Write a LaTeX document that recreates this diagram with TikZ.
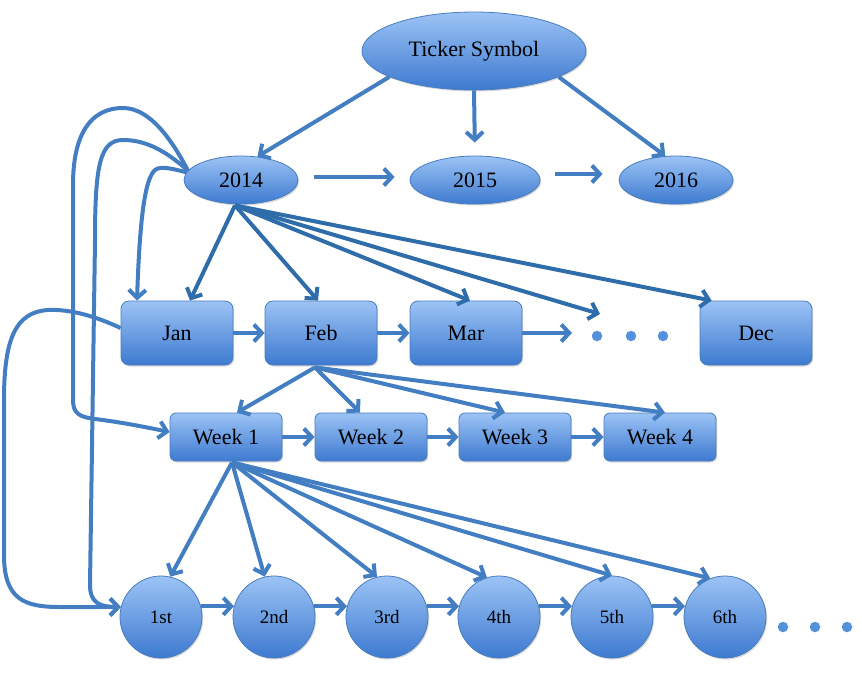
\documentclass[tikz,border=0pt]{standalone}
\usepackage{fontspec}
\setmainfont{Liberation Serif}
\usetikzlibrary{shapes.geometric,arrows.meta,shadows}
\definecolor{topblue}{HTML}{9CC3F5}
\definecolor{botblue}{HTML}{3D7AD0}
\definecolor{edgeblue}{HTML}{4A7DBE}
\definecolor{arrowblue}{HTML}{437DC2}
\definecolor{fanblue}{HTML}{2F6DAA}
\definecolor{dotblue}{HTML}{5590DA}
\tikzset{
  base/.style={draw=edgeblue, line width=0.8pt, top color=topblue, bottom color=botblue,
    drop shadow={shadow xshift=1.2pt, shadow yshift=-1.5pt, opacity=0.3},
    inner sep=0pt, text=black, font=\fontsize{22}{26}\selectfont},
  oval/.style={base, ellipse},
  box/.style={base, rectangle, rounded corners=8pt, minimum width=112pt, minimum height=64pt},
  wbox/.style={box, minimum height=48pt, rounded corners=6pt},
  day/.style={base, circle, minimum size=82pt, font=\fontsize{19}{23}\selectfont},
  dotmark/.style={circle, fill=dotblue, minimum size=10.5pt, inner sep=0pt},
  conn/.style={draw=arrowblue, line width=4pt, -{Straight Barb[length=8pt,width=17pt]}},
  fan/.style={conn, draw=fanblue},
}
\begin{document}
\begin{tikzpicture}[x=1pt,y=-1pt]
\useasboundingbox (0,0) rectangle (862,672);
% years
\node[oval, minimum width=224pt, minimum height=78pt] (ticker) at (474,51) {Ticker Symbol};
\node[oval, minimum width=114pt, minimum height=48pt] (y2014) at (241,180) {2014};
\node[oval, minimum width=130pt, minimum height=48pt] (y2015) at (475,180) {2015};
\node[oval, minimum width=114pt, minimum height=48pt] (y2016) at (676,180) {2016};
% months
\node[box] (jan) at (177,333) {Jan};
\node[box] (feb) at (321,333) {Feb};
\node[box] (mar) at (466,333) {Mar};
\node[box] (dec) at (756,333) {Dec};
\node[dotmark] (dotA) at (597,336) {};
\node[dotmark] (dotB) at (631,336) {};
\node[dotmark] (dotC) at (663,336) {};
% weeks
\node[wbox] (w1) at (226,437) {Week 1};
\node[wbox] (w2) at (371,437) {Week 2};
\node[wbox] (w3) at (515,437) {Week 3};
\node[wbox] (w4) at (660,437) {Week 4};
% days
\node[day] (c1) at (161,617) {1st};
\node[day] (c2) at (274,617) {2nd};
\node[day] (c3) at (387,617) {3rd};
\node[day] (c4) at (499,617) {4th};
\node[day] (c5) at (612,617) {5th};
\node[day] (c6) at (725,617) {6th};
\node[dotmark] (dotD) at (783,627) {};
\node[dotmark] (dotE) at (815,627) {};
\node[dotmark] (dotF) at (847,627) {};

% ticker to years
\draw[conn] (ticker.197) -- (y2014.55);
\draw[conn, shorten >=13pt] (ticker.south) -- (y2015.north);
\draw[conn] (ticker.343) -- (y2016.114);
\draw[conn, shorten <=16pt, shorten >=15pt] ([yshift=3pt]y2014.east) -- ([yshift=3pt]y2015.west);
\draw[conn, shorten <=15pt, shorten >=16pt] ([yshift=6pt]y2015.east) -- ([yshift=6pt]y2016.west);

% 2014 fan
\coordinate (f14) at ([xshift=-6pt,yshift=-1pt]y2014.south);
\coordinate (dend) at ([xshift=3pt,yshift=22pt]dotA.center);
\draw[fan] (f14) -- ([xshift=13pt]jan.north);
\draw[fan] (f14) -- ([xshift=-3pt]feb.north);
\draw[fan] (f14) -- ([xshift=4pt]mar.north);
\draw[fan] (f14) -- (dend);
\draw[fan] (f14) -- ([xshift=12pt]dec.north west);

% month chain
\coordinate (mend) at ([xshift=-25pt,yshift=3pt]dotA.center);
\draw[conn] (jan) -- (feb);
\draw[conn] (feb) -- (mar);
\draw[conn] (mar.east) -- (mend);

% Feb fan
\coordinate (f2) at ([xshift=-6pt,yshift=-2pt]feb.south);
\draw[conn] (f2) -- ([xshift=11pt]w1.north);
\draw[conn] (f2) -- ([xshift=-11pt]w2.north);
\draw[conn] (f2) -- ([xshift=-10pt]w3.north);
\draw[conn] (f2) -- ([xshift=5pt]w4.north);

% week chain
\draw[conn] (w1) -- (w2);
\draw[conn] (w2) -- (w3);
\draw[conn] (w3) -- (w4);

% Week 1 fan
\coordinate (f3) at ([xshift=6pt,yshift=-1pt]w1.south);
\draw[conn] (f3) -- (c1.77);
\draw[conn] (f3) -- (c2.103);
\draw[conn] (f3) -- (c3.104);
\draw[conn] (f3) -- (c4.107);
\draw[conn] (f3) -- (c5.90);
\draw[conn] (f3) -- (c6.111);

% day chain
\draw[conn] (c1.15) -- (c2.165);
\draw[conn] (c2.15) -- (c3.165);
\draw[conn] (c3.15) -- (c4.165);
\draw[conn] (c4.15) -- (c5.165);
\draw[conn] (c5.15) -- (c6.165);

% left curves
\draw[conn] (y2014.170) .. controls (172,140) and (150,108) .. (123,108)
  .. controls (90,108) and (73,135) .. (73,185) -- (73,400)
  .. controls (73,414) and (80,417) .. (95,419)
  .. controls (120,422) and (145,427) .. ([yshift=5pt]w1.west);
\draw[conn] (y2014.170) .. controls (165,150) and (145,140) .. (123,140)
  .. controls (100,140) and (95,165) .. (95,240) -- (90,585)
  .. controls (90,603) and (100,607) .. (c1.166);
\draw[conn] (y2014.172) .. controls (170,168) and (160,166) .. (155,170)
  .. controls (146,178) and (140,210) .. ([xshift=-40pt]jan.north);
\draw[conn] ([yshift=5pt]jan.west) .. controls (95,316) and (70,309) .. (48,310)
  .. controls (15,312) and (4,340) .. (4,400) -- (4,555)
  .. controls (4,600) and (25,607) .. (60,607) -- (c1.166);
\end{tikzpicture}
\end{document}
